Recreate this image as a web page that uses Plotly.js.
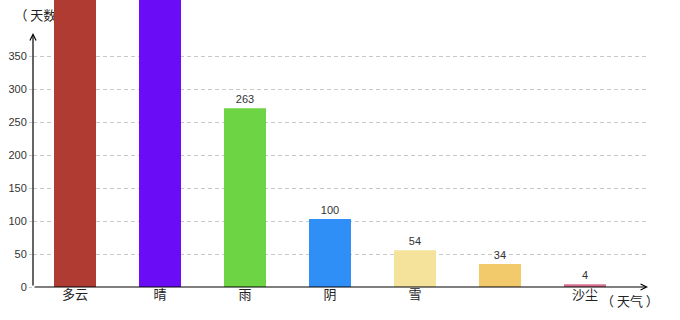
<!DOCTYPE html>
<html><head><meta charset="utf-8">
<script src="https://cdn.plot.ly/plotly-3.0.1.min.js"></script>
<style>html,body{margin:0;padding:0;background:#fff}#c{width:680px;height:320px}</style>
</head><body><div id="c"></div>
<script>
// Data
const categories = ['多云', '晴', '雨', '阴', '雪', '', '沙尘'];
const days = [520, 480, 263, 100, 54, 34, 4];
const colors = ['#b03b32', '#6a0cf6', '#6dd443', '#2f8ff7', '#f5e39b', '#f2c96b', '#d9708f'];
const yTicks = [0, 50, 100, 150, 200, 250, 300, 350];
const yLabel = '（ 天数）';
const xLabel = '（ 天气 ）';

const barMax = 422.4;   // visible top of the bar scale
const xIdx = categories.map((_, i) => i);
const barText = days.map(v => (v > barMax * 0.93 ? '' : String(v)));
const fontNum = 'Liberation Sans, Arial, sans-serif';
const fontCJK = '"Noto Sans CJK SC", sans-serif';

const traces = [
  { // axis-unit label, drawn beneath the bars
    type: 'scatter', mode: 'text', x: [-0.39], y: [409], text: [yLabel],
    textfont: {family: fontCJK, size: 13, color: '#222'},
    xaxis: 'x', yaxis: 'y', cliponaxis: false, hoverinfo: 'skip', showlegend: false
  },
  {
    type: 'bar', x: xIdx, y: days, width: 0.494,
    marker: {color: colors, line: {width: 0}},
    text: barText, texttemplate: '%{text}', textposition: 'outside', cliponaxis: true,
    textfont: {family: fontNum, size: 11, color: '#333'},
    constraintext: 'none',
    xaxis: 'x', yaxis: 'y2', showlegend: false, hoverinfo: 'skip'
  }
];

const layout = {
  width: 680, height: 320,
  margin: {l: 33, r: 32, t: 0, b: 33, pad: 0},
  paper_bgcolor: '#fff', plot_bgcolor: '#fff',
  showlegend: false,
  xaxis: {
    range: [-0.4941, 6.7412], tickvals: xIdx, ticktext: categories,
    showgrid: false, zeroline: false, showline: false, ticks: '',
    ticklabelstandoff: -2,
    tickfont: {family: fontCJK, size: 13, color: '#222'}, fixedrange: true
  },
  yaxis: {
    range: [0, 434.85], tickvals: yTicks, showgrid: true,
    gridcolor: '#c8c8c8', griddash: '4px,3px', gridwidth: 1,
    zeroline: false, showline: false, ticks: 'outside', ticklen: 3, tickcolor: '#c8c8c8',
    tickfont: {family: fontNum, size: 11, color: '#333'}, fixedrange: true
  },
  yaxis2: {
    overlaying: 'y', range: [0, barMax], showgrid: false, zeroline: false,
    showticklabels: false, showline: false, ticks: '', fixedrange: true
  },
  annotations: [
    { // y axis with arrow
      xref: 'paper', yref: 'paper', x: 0, y: 0.885, axref: 'pixel', ayref: 'pixel',
      ax: 0, ay: 254, showarrow: true, arrowhead: 5, arrowsize: 1, arrowwidth: 1.2,
      arrowcolor: '#000', text: ''
    },
    { // x axis with arrow
      xref: 'paper', yref: 'paper', x: 1, y: 0, ax: -615, ay: 0,
      showarrow: true, arrowhead: 5, arrowsize: 1, arrowwidth: 1.2,
      arrowcolor: '#000', text: ''
    },
    {
      xref: 'paper', yref: 'paper', x: 1, y: 0, xshift: -18, yshift: -13, xanchor: 'center', yanchor: 'middle',
      showarrow: false, text: xLabel, font: {family: fontCJK, size: 13, color: '#222'}
    }
  ]
};

Plotly.newPlot('c', traces, layout, {displayModeBar: false, staticPlot: true});
</script></body></html>
